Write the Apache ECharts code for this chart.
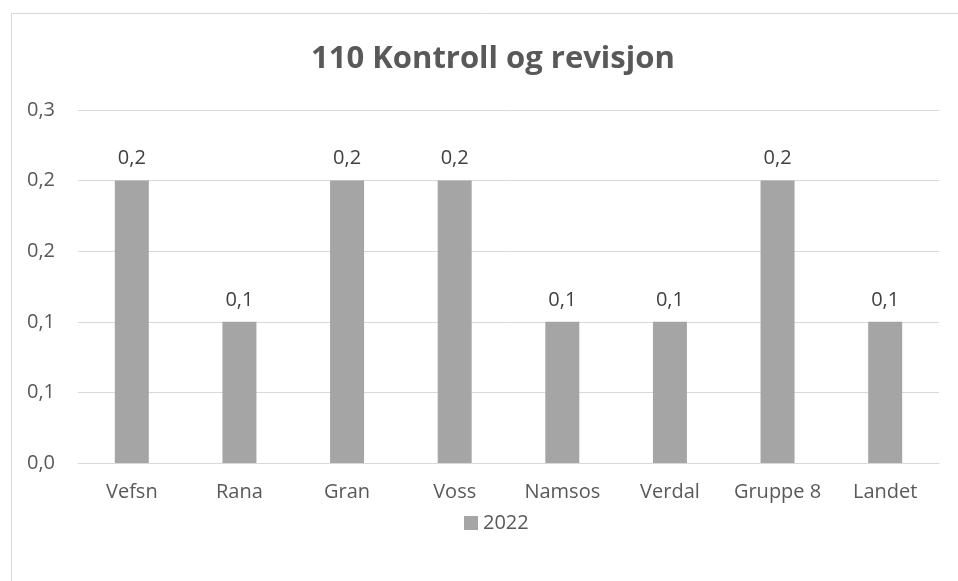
<!DOCTYPE html>
<html><head><meta charset="utf-8">
<script src="https://cdn.jsdelivr.net/npm/echarts@6/dist/echarts.min.js"></script>
<style>html,body{margin:0;padding:0;background:#fff}#c{width:958px;height:581px}</style>
</head><body><div id="c"></div>
<script>
const categories = ['Vefsn','Rana','Gran','Voss','Namsos','Verdal','Gruppe 8','Landet'];
const values2022 = [0.2,0.1,0.2,0.2,0.1,0.1,0.2,0.1];
const tickLabels = ['0,0','0,1','0,1','0,2','0,2','0,3'];
const seriesName = '2022';
const title = '110 Kontroll og revisjon';
const FONT = '"Open Sans", "Liberation Sans", sans-serif';
const chart = echarts.init(document.getElementById('c'), null, {renderer:'canvas'});
chart.setOption({
  animation:false,
  graphic:[{type:'rect',left:9,top:11,shape:{width:1200,height:1200},style:{fill:'none',stroke:'#d9d9d9',lineWidth:1},silent:true,z:-1}],
  title:{text:title,left:306,top:39,textStyle:{fontFamily:FONT,fontSize:31,fontWeight:'bold',color:'#595959'}},
  legend:{top:508,left:459,itemWidth:14,itemHeight:14,itemGap:10,icon:'rect',textStyle:{fontFamily:FONT,fontSize:20,color:'#595959'},data:[seriesName]},
  grid:{left:78,right:19,top:110,bottom:118,containLabel:false},
  xAxis:{type:'category',data:categories,axisTick:{show:false},axisLine:{lineStyle:{color:'#d9d9d9',width:1}},
    axisLabel:{interval:0,fontFamily:FONT,fontSize:20,color:'#595959',margin:19}},
  yAxis:{type:'value',min:0,max:0.25,interval:0.05,axisLine:{show:false},axisTick:{show:false},
    splitLine:{lineStyle:{color:'#d9d9d9',width:1}},
    axisLabel:{fontFamily:FONT,fontSize:20,color:'#595959',margin:23,formatter:v=>tickLabels[Math.round(v/0.05)]}},
  series:[{name:seriesName,type:'bar',data:values2022,barWidth:34,itemStyle:{color:'#a5a5a5'},
    label:{show:true,position:'top',distance:12,fontFamily:FONT,fontSize:20,color:'#404040',formatter:p=>p.value.toFixed(1).replace('.',',')}}]
});
</script></body></html>
